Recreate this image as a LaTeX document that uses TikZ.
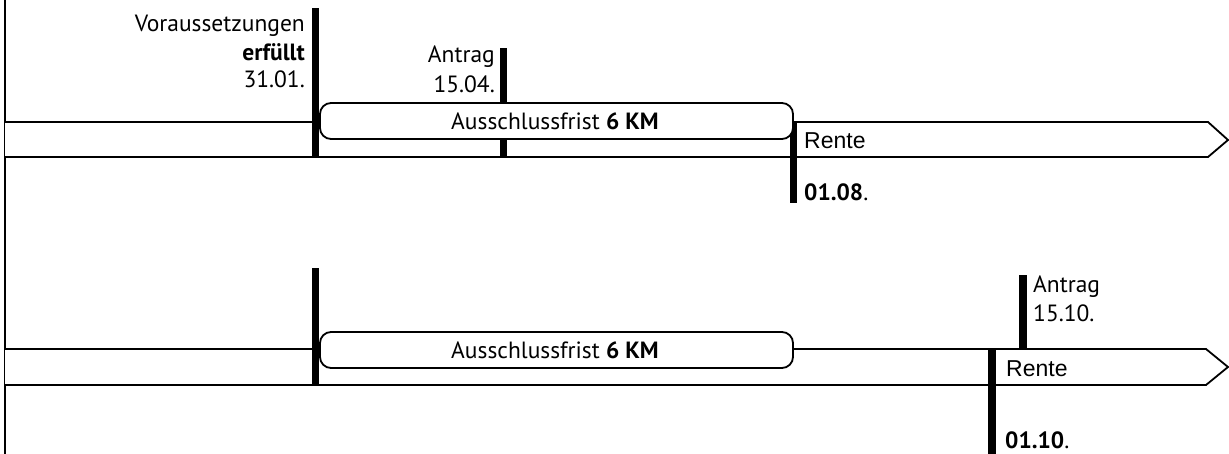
\documentclass[tikz,border=0pt]{standalone}
\usepackage{fontspec}
\setmainfont{PT Sans}
\newfontfamily\arialfont{Liberation Sans}

\begin{document}
\begin{tikzpicture}[x=1pt,y=-1pt,
  band/.style={draw=black,line width=1.8pt,fill=white,line join=miter},
  frist/.style={draw=black,line width=1.8pt,fill=white,rounded corners=11pt},
  txt/.style={inner sep=0pt,font=\fontsize{23.5}{28}\selectfont},
  rtxt/.style={inner sep=0pt,font=\arialfont\fontsize{23}{28}\selectfont}]

\useasboundingbox (0,0) rectangle (1229,454);

% left border line
\draw[line width=2pt] (5,0) -- (5,454);

%%%% first timeline
\draw[band] (5,122) -- (1208,122) -- (1228,140) -- (1208,157) -- (5,157);

\fill (312,8) rectangle (319,157);
\fill (500,48) rectangle (507,157);
\fill (790,122) rectangle (797,203);

\draw[frist] (320,103) rectangle (793,139);
\node[txt] (frist1) at (555,121) {Ausschlussfrist \textbf{6 KM}};

\node[txt,anchor=base east] (vor) at (305,32) {Voraussetzungen};
\node[txt,anchor=base east] (erf) at (305,61) {\textbf{erfüllt}};
\node[txt,anchor=base east] (datum1) at (305,88) {31.01.};

\node[txt,anchor=base east] (antrag1) at (495,63) {Antrag};
\node[txt,anchor=base east] (datum2) at (495,93) {15.04.};

\node[rtxt,anchor=base west] (rente1) at (804,149) {Rente};
\node[txt,anchor=base west] (beginn1) at (804,201) {\textbf{01.08}.};

%%%% second timeline
\draw[band] (5,349) -- (1206,349) -- (1228,367) -- (1206,385) -- (5,385);

\fill (312,268) rectangle (319,385);
\fill (988,349) rectangle (996,454);
\fill (1019,275) rectangle (1027,349);

\draw[frist] (320,332) rectangle (793,368);
\node[txt] (frist2) at (555,350) {Ausschlussfrist \textbf{6 KM}};

\node[txt,anchor=base west] (antrag2) at (1033,293) {Antrag};
\node[txt,anchor=base west] (datum3) at (1033,322) {15.10.};

\node[rtxt,anchor=base west] (rente2) at (1006,377) {Rente};
\node[txt,anchor=base west] (beginn2) at (1005,448) {\textbf{01.10}.};

\end{tikzpicture}
\end{document}
